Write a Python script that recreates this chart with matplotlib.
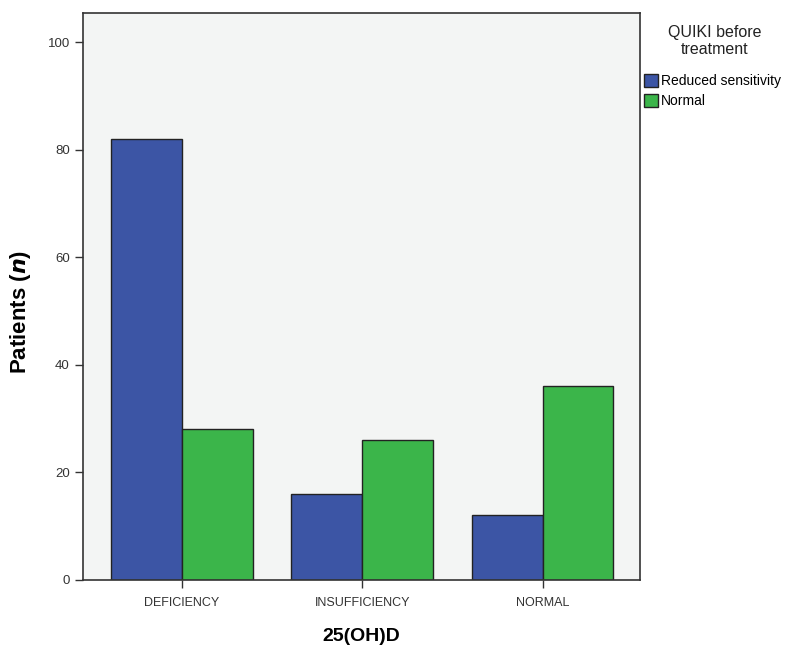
import matplotlib

matplotlib.use("Agg")
import matplotlib.pyplot as plt
import numpy as np

categories = ["DEFICIENCY", "INSUFFICIENCY", "NORMAL"]
reduced = [82, 16, 12]
normal = [28, 26, 36]
series_names = ["Reduced sensitivity", "Normal"]
legend_title = "QUIKI before\ntreatment"

BLUE = "#3c55a5"
GREEN = "#3bb54a"

plt.rcParams["font.family"] = ["Liberation Sans", "DejaVu Sans"]

fig = plt.figure(figsize=(7.94, 6.48), dpi=100)
ax = fig.add_axes([0.1045, 0.105, 0.7015, 0.875])
ax.set_facecolor("#f3f5f4")

x = np.arange(len(categories))
w = 0.393
ax.bar(x - w / 2, reduced, w, color=BLUE, edgecolor="#222222", lw=1.0, label=series_names[0])
ax.bar(x + w / 2, normal, w, color=GREEN, edgecolor="#222222", lw=1.0, label=series_names[1])

ax.set_xlim(-0.548, 2.54)
ax.set_ylim(0, 105.4)
ax.set_yticks([0, 20, 40, 60, 80, 100])
ax.set_xticks(x)
ax.set_xticklabels(categories, fontsize=9)
ax.tick_params(axis="y", labelsize=9.5, colors="#333333", length=6, width=1)
ax.tick_params(axis="x", colors="#333333", length=6, width=1, pad=6)
for s in ax.spines.values():
    s.set_color("#333333")
    s.set_linewidth(1.2)

ax.set_ylabel(r"Patients ($\bfit{n}$)", fontsize=16, fontweight="bold")
ax.yaxis.set_label_coords(-0.09, 0.473)
ax.set_xlabel("25(OH)D", fontsize=14, fontweight="bold", labelpad=14)

fig.text(0.90, 0.937, legend_title, ha="center", va="center", fontsize=11.5,
         color="#222222", linespacing=1.15)
leg = ax.legend(
    loc="upper left",
    bbox_to_anchor=(1.007, 0.893),
    frameon=False,
    fontsize=10,
    handlelength=1.0,
    handleheight=1.05,
    handletextpad=0.25,
    labelspacing=0.45,
    borderaxespad=0,
    borderpad=0,
)

fig.savefig("out.png", dpi=100)
